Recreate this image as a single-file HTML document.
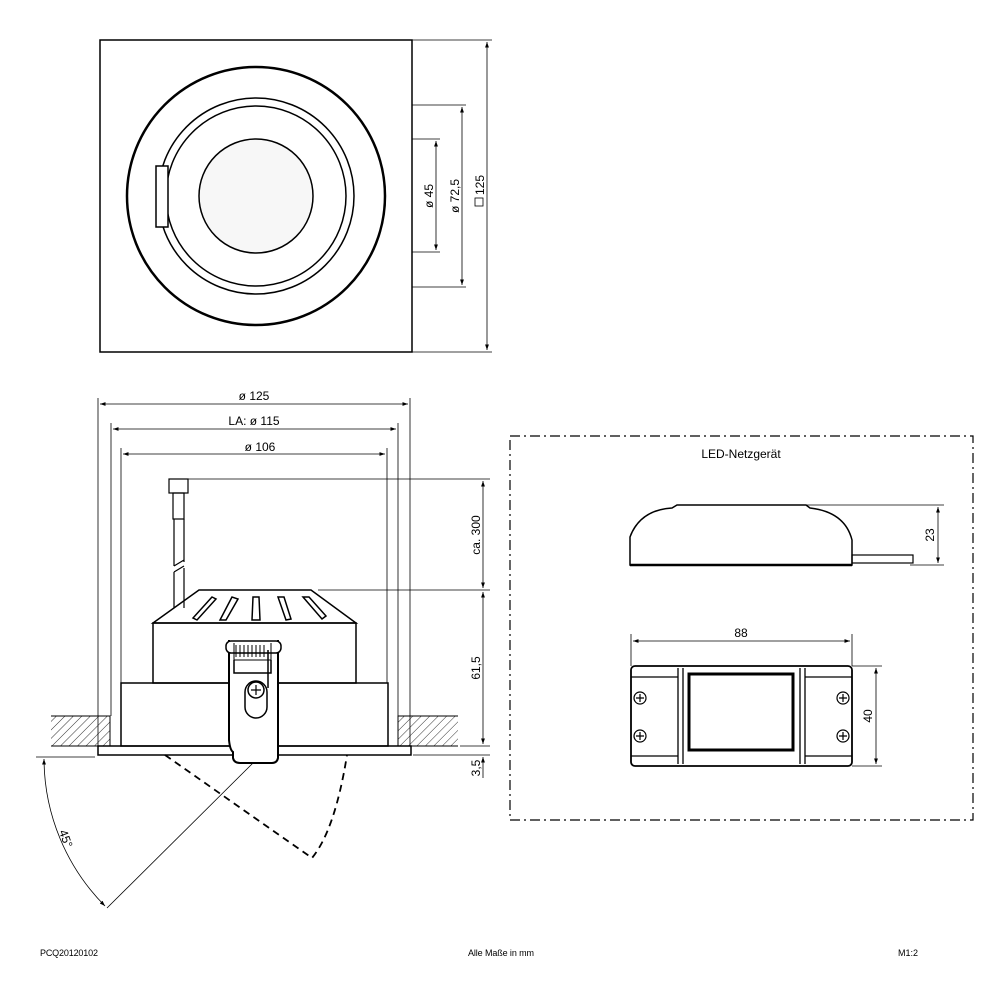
<!DOCTYPE html>
<html><head><style>html,body{margin:0;padding:0;background:#fff}svg{display:block}text{font-family:"Liberation Sans",sans-serif;fill:#000}</style></head><body>
<svg width="1000" height="1000" viewBox="0 0 1000 1000" xmlns="http://www.w3.org/2000/svg">
<defs>
<marker id="a" viewBox="0 0 10 10" refX="10" refY="5" markerWidth="7" markerHeight="7" orient="auto-start-reverse"><path d="M0,1.5 L10,5 L0,8.5z" fill="#000"/></marker>
<pattern id="h" width="6" height="6" patternUnits="userSpaceOnUse" patternTransform="rotate(45)"><line x1="0" y1="0" x2="0" y2="6" stroke="#000" stroke-width="0.8"/></pattern>
</defs>
<g fill="none" stroke="#000">
<rect x="100" y="40" width="312" height="312" stroke-width="1.5"/>
<circle cx="256" cy="196" r="129" stroke-width="2.5"/>
<circle cx="256" cy="196" r="98" stroke-width="1.5"/>
<circle cx="256" cy="196" r="90" stroke-width="1.5"/>
<circle cx="256" cy="196" r="57" stroke-width="1.5" fill="#f7f7f7"/>
<rect x="156" y="166" width="12" height="61" fill="#fff" stroke-width="1.5"/>
<g stroke-width="0.8">
<line x1="412" y1="40" x2="492" y2="40"/><line x1="412" y1="352" x2="492" y2="352"/>
<line x1="487" y1="42" x2="487" y2="350" marker-start="url(#a)" marker-end="url(#a)"/>
<line x1="412" y1="105" x2="466" y2="105"/><line x1="412" y1="287" x2="466" y2="287"/>
<line x1="462" y1="107" x2="462" y2="285" marker-start="url(#a)" marker-end="url(#a)"/>
<line x1="412" y1="139" x2="440" y2="139"/><line x1="412" y1="252" x2="440" y2="252"/>
<line x1="436" y1="141" x2="436" y2="250" marker-start="url(#a)" marker-end="url(#a)"/>
</g>
<rect x="475" y="198" width="8" height="8" stroke-width="0.8"/>
<g stroke-width="0.8">
<line x1="100" y1="404" x2="408" y2="404" marker-start="url(#a)" marker-end="url(#a)"/>
<line x1="98" y1="398" x2="98" y2="746"/><line x1="410" y1="398" x2="410" y2="746"/>
<line x1="113" y1="429" x2="396" y2="429" marker-start="url(#a)" marker-end="url(#a)"/>
<line x1="111" y1="423" x2="111" y2="716"/><line x1="398" y1="423" x2="398" y2="716"/>
<line x1="123" y1="454" x2="385" y2="454" marker-start="url(#a)" marker-end="url(#a)"/>
<line x1="121" y1="448" x2="121" y2="683"/><line x1="387" y1="448" x2="387" y2="683"/>
<line x1="188" y1="479" x2="490" y2="479"/><line x1="318" y1="590" x2="490" y2="590"/>
<line x1="460" y1="746" x2="490" y2="746"/><line x1="413" y1="755" x2="490" y2="755"/>
<line x1="483" y1="481" x2="483" y2="588" marker-start="url(#a)" marker-end="url(#a)"/>
<line x1="483" y1="592" x2="483" y2="744" marker-start="url(#a)" marker-end="url(#a)"/>
<line x1="483" y1="757" x2="483" y2="778" marker-start="url(#a)"/>
</g>
<rect x="51" y="716" width="59" height="30" fill="url(#h)" stroke="none"/>
<rect x="398" y="716" width="60" height="30" fill="url(#h)" stroke="none"/>
<path d="M51,716H110V746M398,746V716H458M51,746H110M398,746H458" stroke-width="1"/>
<rect x="169" y="479" width="19" height="14" stroke-width="1.2"/>
<rect x="173" y="493" width="11" height="26" stroke-width="1.2"/>
<path d="M174,519V566M184,519V562M174,572V608M184,568V608M174,572L184,566M174,566L184,560" stroke-width="1.2"/>
<path d="M199,590H311L356,623H153Z" stroke-width="1.5"/>
<g stroke-width="1.5">
<path d="M212,597L193,618 197,620 216,599Z"/><path d="M232,597L220,620 226,620 238,599Z"/>
<path d="M253,597L252,620 260,620 259,597Z"/><path d="M278,597L286,620 291,619 284,597Z"/><path d="M303,597L322,619 326,616 309,597Z"/>
</g>
<rect x="153" y="623" width="203" height="60" stroke-width="1.5"/>
<rect x="121" y="683" width="267" height="63" stroke-width="1.5"/>
<rect x="98" y="746" width="313" height="9" stroke-width="1.5"/>
<path d="M229,640V740Q230,750 233,752V758Q234,763 240,763H272Q277,763 278,758V640" fill="#fff" stroke-width="2"/>
<rect x="226" y="641" width="55" height="12" rx="5" fill="#fff" stroke-width="1.5"/>
<path d="M234,643V660H271V643M236,645V657M240,645V657M244,645V657M248,645V657M252,645V657M256,645V657M260,645V657M264,645V657" stroke-width="1"/>
<path d="M234,660V673H271V660M268,650V688" stroke-width="1.5"/>
<rect x="245" y="681" width="22" height="37" rx="11" stroke-width="1.5"/>
<circle cx="256" cy="690" r="8" stroke-width="1.5"/>
<path d="M256,685V695M251,690H261" stroke-width="1.2"/>
<path d="M165,755L312,858Q335,830 347,755" stroke-width="1.8" stroke-dasharray="7,5"/>
<line x1="253" y1="763" x2="107" y2="908" stroke-width="0.8"/>
<line x1="95" y1="757" x2="36" y2="757" stroke-width="0.8"/>
<path d="M44,759A210,210 0 0 0 105,906" stroke-width="0.8" marker-start="url(#a)" marker-end="url(#a)"/>
<rect x="510" y="436" width="463" height="384" stroke-width="1.2" stroke-dasharray="10,4,2,4"/>
<path d="M630,565V537Q640,510 672,508L677,505H806L810,508Q845,512 852,540V565Z" stroke-width="1.5"/>
<line x1="630" y1="565" x2="852" y2="565" stroke-width="2.5"/>
<rect x="852" y="555" width="61" height="8" stroke-width="1.2"/>
<g stroke-width="0.8">
<line x1="806" y1="505" x2="944" y2="505"/><line x1="910" y1="565" x2="944" y2="565"/>
<line x1="938" y1="507" x2="938" y2="563" marker-start="url(#a)" marker-end="url(#a)"/>
<line x1="631" y1="634" x2="631" y2="666"/><line x1="852" y1="634" x2="852" y2="666"/>
<line x1="633" y1="641" x2="850" y2="641" marker-start="url(#a)" marker-end="url(#a)"/>
<line x1="852" y1="666" x2="882" y2="666"/><line x1="852" y1="766" x2="882" y2="766"/>
<line x1="876" y1="668" x2="876" y2="764" marker-start="url(#a)" marker-end="url(#a)"/>
</g>
<rect x="631" y="666" width="221" height="100" rx="4" stroke-width="1.8"/>
<path d="M631,677H678M631,756H678M678,668V764M683,668V764M805,668V764M800,668V764M805,677H852M805,756H852" stroke-width="1.3"/>
<rect x="689" y="674" width="104" height="76" stroke-width="3"/>
<g stroke-width="1.2"><circle cx="640" cy="698" r="6"/><circle cx="640" cy="736" r="6"/><circle cx="843" cy="698" r="6"/><circle cx="843" cy="736" r="6"/>
<path d="M636,698h8M640,694v8M636,736h8M640,732v8M839,698h8M843,694v8M839,736h8M843,732v8"/></g>
</g>
<g font-size="12">
<text transform="translate(433,196) rotate(-90)" text-anchor="middle">ø 45</text>
<text transform="translate(459,196) rotate(-90)" text-anchor="middle">ø 72,5</text>
<text transform="translate(484,185) rotate(-90)" text-anchor="middle">125</text>
<text x="254" y="400" text-anchor="middle">ø 125</text>
<text x="254" y="425" text-anchor="middle">LA: ø 115</text>
<text x="260" y="451" text-anchor="middle">ø 106</text>
<text transform="translate(480,535) rotate(-90)" text-anchor="middle">ca. 300</text>
<text transform="translate(480,668) rotate(-90)" text-anchor="middle">61,5</text>
<text transform="translate(480,768) rotate(-90)" text-anchor="middle">3,5</text>
<text transform="translate(62,840) rotate(70)" text-anchor="middle">45°</text>
<text x="741" y="458" text-anchor="middle">LED-Netzgerät</text>
<text transform="translate(934,535) rotate(-90)" text-anchor="middle">23</text>
<text x="741" y="637" text-anchor="middle">88</text>
<text transform="translate(872,716) rotate(-90)" text-anchor="middle">40</text>
</g>
<g font-size="9">
<text x="40" y="956" textLength="58">PCQ20120102</text>
<text x="468" y="956" textLength="66">Alle Maße in mm</text>
<text x="898" y="956">M1:2</text>
</g>
</svg>
</body></html>
